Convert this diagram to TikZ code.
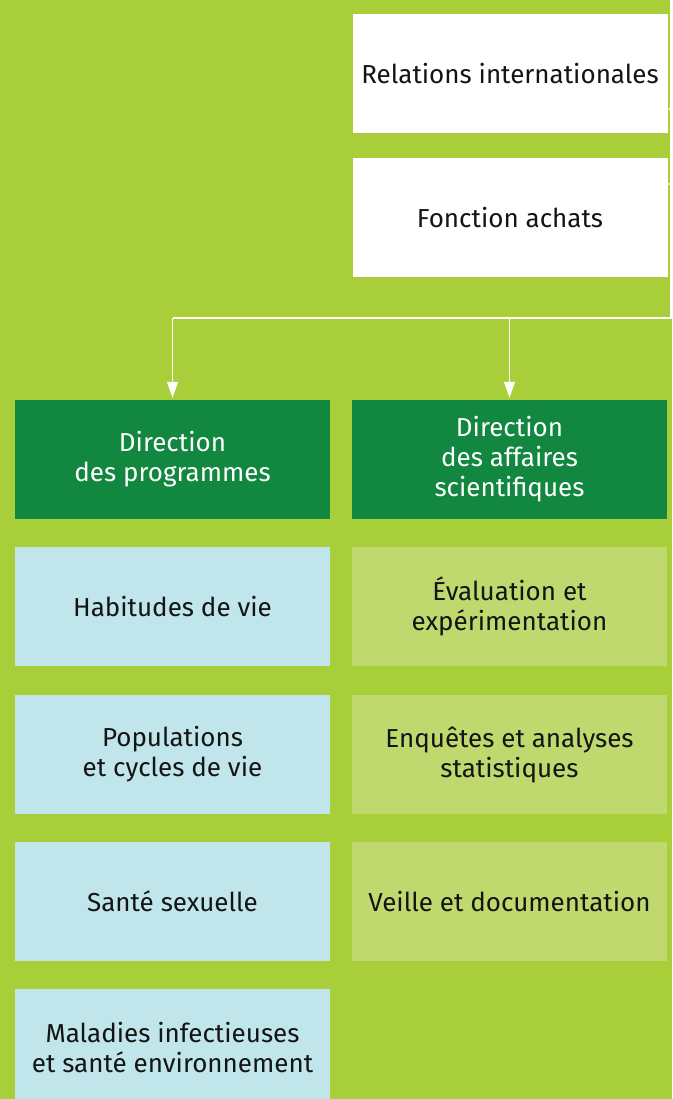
\documentclass[tikz,border=0pt]{standalone}
\usepackage{fontspec}
\setmainfont{Fira Sans}
\usetikzlibrary{arrows.meta}

\definecolor{limebg}{RGB}{168,207,57}
\definecolor{darkgreen}{RGB}{18,135,64}
\definecolor{paleblue}{RGB}{192,230,236}
\definecolor{palegreen}{RGB}{192,217,110}
\definecolor{inkblack}{RGB}{20,20,20}

\begin{document}
\begin{tikzpicture}[x=1pt, y=-1pt,
    box/.style={minimum width=315pt, minimum height=119pt, inner sep=0pt,
        align=center, text=inkblack, font=\fontsize{26}{30}\selectfont},
    whitebox/.style={box, fill=white},
    dirbox/.style={box, fill=darkgreen, text=white},
    progbox/.style={box, fill=paleblue},
    scibox/.style={box, fill=palegreen},
    link/.style={draw=white, line width=1.2pt},
    bigtip/.style={link, -{Triangle[length=16pt, width=11pt]}, shorten >=2pt},
    smalltip/.style={link, -{Triangle[length=5pt, width=5pt]}}]

    % background
    \fill[limebg] (0,0) rectangle (672,1099);
    \useasboundingbox (0,0) rectangle (672,1099);
    \clip (0,0) rectangle (672,1099);

    % top boxes
    \node[whitebox] (rel) at (510,73.5) {Relations internationales};
    \node[whitebox] (achats) at (510,217.5) {Fonction achats};

    % directions
    \node[dirbox] (dprog) at (172.5,459.5) {Direction\\des programmes};
    \node[dirbox] (dsci) at (509.5,459.5) {Direction\\des affaires\\scientifiques};

    % left column
    \node[progbox] (habitudes) at (172.5,606.5) {Habitudes de vie};
    \node[progbox] (populations) at (172.5,754.5) {Populations\\et cycles de vie};
    \node[progbox] (sexuelle) at (172.5,901.5) {Santé sexuelle};
    \node[progbox] (maladies) at (172.5,1048) {Maladies infectieuses\\et santé environnement};

    % right column
    \node[scibox] (evaluation) at (509.5,606.5) {Évaluation et\\expérimentation};
    \node[scibox] (enquetes) at (509.5,754.5) {Enquêtes et analyses\\statistiques};
    \node[scibox] (veille) at (509.5,901.5) {Veille et documentation};

    % connectors
    \coordinate (spinetop) at (671,0);
    \coordinate (spinebot) at (671,318);
    \coordinate (relin) at (671,109);
    \coordinate (achatsin) at (671,184);

    \draw[link] (spinetop) -- (spinebot) -- (spinebot -| dprog.north);
    \draw[bigtip] (spinebot -| dprog.north) -- (dprog.north);
    \draw[bigtip] (spinebot -| dsci.north) -- (dsci.north);
    \draw[smalltip] (relin) -- (relin -| rel.east);
    \draw[smalltip] (achatsin) -- (achatsin -| achats.east);
\end{tikzpicture}
\end{document}
